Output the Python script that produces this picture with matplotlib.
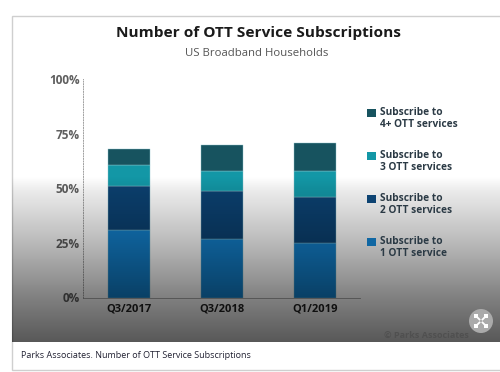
import numpy as np
import matplotlib
matplotlib.use('Agg')
import matplotlib.pyplot as plt
from matplotlib.patches import Circle, Rectangle

plt.rcParams['font.family'] = ['Open Sans', 'DejaVu Sans']

quarters = ['Q3/2017', 'Q3/2018', 'Q1/2019']
one_service = [31, 27, 25]
two_services = [20, 22, 21]
three_services = [10, 9, 12]
four_plus_services = [7, 12, 13]
y_ticks = [0, 25, 50, 75, 100]

names = ['Subscribe to\n4+ OTT services', 'Subscribe to\n3 OTT services',
         'Subscribe to\n2 OTT services', 'Subscribe to\n1 OTT service']
colors = ['#17535f', '#1397a6', '#0d4372', '#1067a3']
# bars sit under the grey fade, so the lowest one starts out brighter
bar_colors = ['#17535f', '#1397a6', '#0c4272', '#1380cb']

W, H = 500, 372
fig = plt.figure(figsize=(W / 100, H / 100), dpi=100, facecolor='white')

# helper axes in pixel coordinates, y going down like the picture
bg = fig.add_axes([0, 0, 1, 1], zorder=0)
bg.set_xlim(0, W)
bg.set_ylim(H, 0)
bg.axis('off')
bg.add_patch(Rectangle((11.5, 16), W, 354, fc='white', ec='#cfcfcf', lw=1))

# the chart itself
ax = fig.add_axes([83 / W, 1 - 297.5 / H, 277 / W, 218 / H], zorder=1)
ax.patch.set_alpha(0)
x = np.arange(len(quarters))
bottom = np.zeros(len(quarters))
for vals, c in zip([one_service, two_services, three_services, four_plus_services], bar_colors[::-1]):
    ax.bar(x, vals, 0.46, bottom=bottom, color=c, edgecolor='#8fc4cc', linewidth=0.3)
    bottom += np.array(vals)
ax.set_xlim(-0.495, 2.485)
ax.set_ylim(0, 100)
ax.set_xticks(x, quarters, fontsize=8, fontweight='bold', color='#222222')
ax.set_yticks(y_ticks, [f'{v}%' for v in y_ticks], fontsize=8.5, fontweight='bold', color='#5f5f5f')
ax.tick_params(axis='x', length=0, pad=4)
ax.tick_params(axis='y', length=0, pad=2.5)
for s in ['top', 'right']:
    ax.spines[s].set_visible(False)
ax.spines['left'].set_linestyle(':')
ax.spines['left'].set_linewidth(0.7)
ax.spines['left'].set_color('#a0a0a0')
ax.spines['bottom'].set_color('#a0a0a0')
ax.spines['bottom'].set_linewidth(0.6)

# overlay for text, legend and the grey shading
top = fig.add_axes([0, 0, 1, 1], zorder=2)
top.set_xlim(0, W)
top.set_ylim(H, 0)
top.axis('off')
top.patch.set_alpha(0)

top.text(258, 33.5, 'Number of OTT Service Subscriptions', ha='center', va='center',
         fontsize=11.1, fontweight='bold', color='#1a1a1a')
top.text(257, 53, 'US Broadband Households', ha='center', va='center', fontsize=8.2, color='#555555')

legend_y = [113, 156, 199, 242]
for name, c, ly in zip(names, colors, legend_y):
    top.add_patch(Rectangle((367, ly - 4), 8.5, 8, fc=c, ec='none', zorder=4))
    top.text(380, ly + 5.5, name, ha='left', va='center', fontsize=7.3, fontweight='bold',
             color='#2b3a45', linespacing=1.1, zorder=4)

# grey fade over everything from mid height down to the caption strip
rows = np.arange(176, 342)
fade = np.zeros((len(rows), 1, 4))
fade[:, 0, 3] = np.interp(rows, [176, 190, 243, 297, 342], [0, 0.08, 0.28, 0.5, 0.66])
top.imshow(fade, extent=(12, W, 342, 176), aspect='auto', zorder=3, interpolation='nearest')
top.set_xlim(0, W)
top.set_ylim(H, 0)

top.text(469, 335.5, '© Parks Associates', ha='right', va='center', fontsize=6.5,
         fontweight='bold', color='#505050', zorder=4)
top.text(21, 356, 'Parks Associates. Number of OTT Service Subscriptions', ha='left', va='center',
         fontsize=6.5, color='#222233', zorder=4)

# expand button
top.add_patch(Circle((481, 321), 12, fc='#aaaaaa', ec='none', zorder=4))
for dx, dy in [(-1, -1), (1, -1), (-1, 1), (1, 1)]:
    top.plot([481 + 1.5 * dx, 481 + 4 * dx], [321 + 1.5 * dy, 321 + 4 * dy], color='white', lw=1.3, zorder=5)
    top.plot([481 + 4.8 * dx], [321 + 4.8 * dy], marker='s', ms=3.2, color='white', mew=0, zorder=5)

fig.savefig('out.png', dpi=100)
